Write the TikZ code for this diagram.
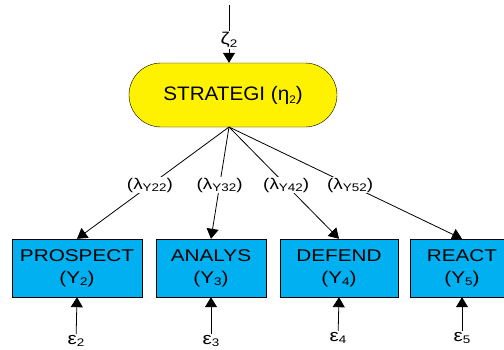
\documentclass[tikz,border=0pt]{standalone}
\usepackage{fontspec}
\setmainfont{Liberation Sans}[FakeStretch=1.22]
\newfontfamily\ovalfont{Liberation Sans}[FakeStretch=1.06]
\usetikzlibrary{arrows.meta,shapes.misc}
\newcommand{\lowsub}[1]{\raisebox{-0.3ex}{\fontsize{11}{11}\selectfont #1}}

\begin{document}
\begin{tikzpicture}[x=1pt,y=-1pt,>={Triangle[length=10pt,width=12pt]}]

	\def\boxy{268}
	\def\epsy{341}
	\def\lampos{0.52}

	% Colours
	\colorlet{latentcolor}{yellow}
	\definecolor{itemcolor}{RGB}{0,176,240}

	% Styles
	\tikzstyle{latent}=[rounded rectangle, draw=black, fill=latentcolor, minimum width=208pt, minimum height=64pt, inner sep=0pt, font=\ovalfont\fontsize{19.5}{22}\selectfont]
	\tikzstyle{item}=[rectangle, draw=black, fill=itemcolor, minimum height=58pt, inner sep=0pt, align=center, font=\fontsize{17}{22}\selectfont]
	\tikzstyle{loading}=[fill=white, inner sep=1pt, font=\fontsize{15.5}{16}\selectfont]
	\tikzstyle{errlabel}=[inner sep=1pt, font=\fontsize{17}{18}\selectfont]
	\tikzstyle{link}=[line width=0.8pt]

	\useasboundingbox (0,0) rectangle (504,349);

	% Latent variable
	\node[latent] (strat) at (233,95) {STRATEGI (η\lowsub{2})};
	\coordinate (hub) at (229,127);
	\coordinate (ztop) at (229,5);
	\node[errlabel] (zeta) at (229,40) {ζ\lowsub{2}};
	\draw[link] (ztop) -- (zeta);
	\draw[link, ->] (zeta) -- (zeta |- strat.north);

	% Indicators
	\node[item, minimum width=130pt] (prospect) at (77,\boxy) {PROSPECT\\(Y\lowsub{2})};
	\node[item, minimum width=110pt] (analys) at (211,\boxy) {ANALYS\\(Y\lowsub{3})};
	\node[item, minimum width=118pt] (defend) at (339,\boxy) {DEFEND\\(Y\lowsub{4})};
	\node[item, minimum width=104pt] (react) at (462,\boxy) {REACT\\(Y\lowsub{5})};

	% Loadings
	\draw[link, ->] (hub) -- node[loading, pos=\lampos]{(λ\lowsub{Y22})} (prospect.north);
	\draw[link, ->] (hub) -- node[loading, pos=\lampos]{(λ\lowsub{Y32})} (analys.north);
	\draw[link, ->] (hub) -- node[loading, pos=\lampos]{(λ\lowsub{Y42})} (defend.north);
	\draw[link, ->] (hub) -- node[loading, pos=\lampos]{(λ\lowsub{Y52})} (react.north);

	% Errors
	\node[errlabel] (eps2) at (76,\epsy) {ε\lowsub{2}};
	\node[errlabel] (eps3) at (211,\epsy) {ε\lowsub{3}};
	\node[errlabel] (eps4) at (338,338) {ε\lowsub{4}};
	\node[errlabel] (eps5) at (462,338) {ε\lowsub{5}};
	\draw[link, ->] (eps2) -- (prospect.south);
	\draw[link, ->] (eps3) -- (analys.south);
	\draw[link, ->] (eps4) -- (defend.south);
	\draw[link, ->] (eps5) -- (react.south);

\end{tikzpicture}
\end{document}
